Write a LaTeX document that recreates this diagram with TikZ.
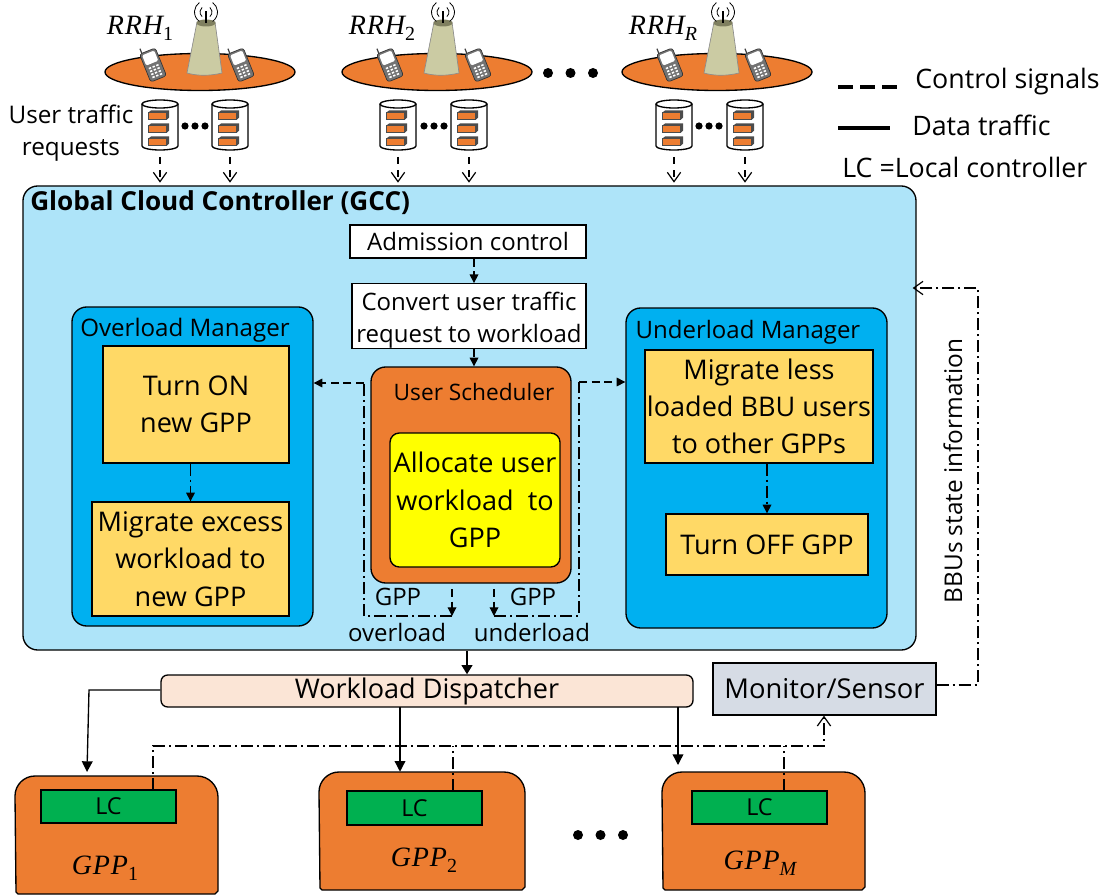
\documentclass[tikz,border=0pt]{standalone}
\usepackage{fontspec}
\setmainfont{Open Sans}
\newfontfamily\mfont{Liberation Serif}
\usetikzlibrary{arrows.meta,calc}
\definecolor{gccblue}{HTML}{AEE4F9}
\definecolor{mgrblue}{HTML}{00B0F0}
\definecolor{orng}{HTML}{ED7D31}
\definecolor{gold}{HTML}{FFD966}
\definecolor{tower}{HTML}{CBCBA3}
\definecolor{towertop}{HTML}{7F7F5F}
\definecolor{peach}{HTML}{FBE5D6}
\definecolor{slate}{HTML}{D6DCE5}
\definecolor{lcgreen}{HTML}{00B050}
\definecolor{yell}{HTML}{FFFF00}
\tikzset{
  px/.style={x=0.75pt,y=-0.75pt},
  box/.style={draw=black,line width=1pt},
  txt/.style={font=\fontsize{#1}{#1}\selectfont,inner sep=0pt,align=center},
  txt/.default=18,
  solidarrow/.style={draw=black,line width=1pt,-{Triangle[length=8pt,width=8pt]}},
  ctl/.style={draw=black,line width=0.9pt,dash pattern=on 9pt off 3pt on 1.5pt off 3pt},
  dsh/.style={draw=black,line width=0.9pt,dash pattern=on 6pt off 3.5pt},
  reqline/.style={draw=black,line width=0.9pt,dash pattern=on 5pt off 5pt},
  filltip/.style={-{Triangle[length=6.5pt,width=6.5pt]}},
  opentip/.style={-{Straight Barb[length=7pt,width=10pt]}},
}
\newcommand{\bx}[7][]{%
  \pgfmathsetmacro{\cxv}{(#3+#5)/2}\pgfmathsetmacro{\cyv}{(#4+#6)/2}%
  \pgfmathsetmacro{\wv}{(#5-#3)*0.75}\pgfmathsetmacro{\hv}{(#6-#4)*0.75}%
  \node[minimum width=\wv pt,minimum height=\hv pt,inner sep=0pt,align=center,#1] (#2) at (\cxv,\cyv) {#7};}
\newcommand{\vr}[2]{{\mfont\itshape\addfontfeatures{LetterSpace=3}#1}\raisebox{-0.22em}{\fontsize{15}{15}\selectfont\mfont #2}}
\newcommand{\rrh}[2]{% centre x, name
  \begin{scope}[shift={(#1,0)}]
  \filldraw[fill=orng,draw=black,line width=1pt] (0,72) ellipse [x radius=95,y radius=18.5];
  \fill[tower,draw=black!45,line width=0.5pt] (-13,73) -- (-3,22) -- (15,22) -- (22,73) .. controls (10,76) and (-3,76) .. (-13,73) -- cycle;
  \fill[towertop] (6,23) ellipse [x radius=9.5,y radius=3.5];
  \draw[line width=1pt] (6,23) -- (6,11);
  \draw[line width=0.6pt] (6,12) ++(130:6) arc[start angle=130,end angle=230,radius=6];
  \draw[line width=0.6pt] (6,12) ++(50:6) arc[start angle=50,end angle=-50,radius=6];
  \draw[line width=0.6pt] (6,12) ++(125:11.5) arc[start angle=125,end angle=235,radius=11.5];
  \draw[line width=0.6pt] (6,12) ++(55:11.5) arc[start angle=55,end angle=-55,radius=11.5];
  \phone{-47}{65}\phone{41}{65}
  \end{scope}}
\newcommand{\phone}[2]{%
  \begin{scope}[shift={(#1,#2)},rotate=22]
  \draw[line width=0.9pt,black!75] (-6,-13) -- (-6,-20);
  \filldraw[fill=black!55,draw=black!80,line width=0.5pt,rounded corners=2pt] (-8.5,-15) rectangle (8.5,15);
  \fill[white,rounded corners=1pt] (-6.5,-13) rectangle (6.5,-2);
  \foreach \i in {0,1,2,3}\foreach \j in {-1,0,1}
    \fill[white] (\j*4-1.2,1+\i*3.2) rectangle (\j*4+1.2,2.6+\i*3.2);
  \end{scope}}
\newcommand{\cyl}[2]{% left x, name
  \bx{#2}{#1}{100}{#1+36}{150}{}
  \begin{scope}[shift={(#1,0)}]
  \filldraw[fill=white,draw=black,line width=1pt] (0,104) -- (0,146) arc[start angle=180,end angle=0,x radius=18,y radius=4] -- (36,104);
  \filldraw[fill=white,draw=black,line width=1pt] (18,104) ellipse [x radius=18,y radius=4];
  \foreach \y in {112,125,138}{
    \fill[black!70] (7,\y) -- (9,\y-1.5) -- (27,\y-1.5) -- (27,\y+5.5) -- (25,\y+7.5) -- (7,\y+7.5) -- cycle;
    \fill[orng] (6,\y) rectangle (24.5,\y+7.5);
    \draw[black!70,line width=0.4pt] (6,\y) rectangle (24.5,\y+7.5);
  }
  \end{scope}}
\newcommand{\threedots}[4]{\foreach \i in {0,1,2}\fill (#1+\i*#3,#2) circle [radius=#4];}
\newcommand{\gpp}[5]{% name x1 y1 x2 y2
  \filldraw[fill=orng,draw=black,line width=1pt] (#2+1,#5-2) -- (#2,#3+20) arc[start angle=180,end angle=270,radius=20] -- (#4-21,#3) arc[start angle=270,end angle=360,radius=21] -- (#4,#5-3) -- (#4-3,#5) -- (#2+3,#5) -- cycle;
  \bx{#1}{#2}{#3}{#4}{#5}{}}
\begin{document}
\begin{tikzpicture}[px]
\useasboundingbox (0,0) rectangle (1114,895);
% RRH sites
\rrh{200}{a}\rrh{437}{b}\rrh{717}{c}
\node[txt=21] (rrh1) at (140,28) {\vr{RRH}{1}};
\node[txt=21] (rrh2) at (382,28) {\vr{RRH}{2}};
\node[txt=21] (rrh3) at (663,28) {\vr{RRH}{\itshape R}};
\threedots{548}{73}{22.5}{5}
\threedots{578}{835}{22.5}{5}
\node[font=\fontsize{18.2}{24}\selectfont,inner sep=0pt,align=center] (utr) at (71,133) {User traffic\\requests};
\cyl{142}{c1}\cyl{212}{c2}\cyl{380}{c3}\cyl{451}{c4}\cyl{656}{c5}\cyl{727}{c6}
\threedots{185}{126}{10}{3.6}
\threedots{424}{126}{10}{3.6}
\threedots{699}{126}{10}{3.6}
% Legend
\coordinate (la) at (838,87);\coordinate (lb) at (897,87);
\coordinate (lc) at (838,128);\coordinate (ld) at (890,128);
\draw[line width=2.5pt,dash pattern=on 11.25pt off 5.25pt] (la) -- (lb);
\draw[line width=2.5pt] (lc) -- (ld);
\node[txt=20.1,anchor=west] (l1) at (915,82) {Control signals};
\node[txt=20.1,anchor=west] (l2) at (912,125) {Data traffic};
\node[txt=20.1,anchor=west] (l3) at (842,167) {LC =Local controller};
% GCC
\bx[box,fill=gccblue,rounded corners=11pt]{gcc}{23}{186}{916}{650}{}
\node[inner sep=0pt,anchor=west,font=\fontsize{19.6}{19.6}\selectfont\bfseries] (gcct) at (30,203) {Global Cloud Controller (GCC)};
\foreach \c in {c1,c2,c3,c4,c5,c6}
  \draw[reqline,opentip,shorten <=5pt,shorten >=2pt] (\c.south) -- (\c.south |- gcc.north);
\bx[box,fill=white,font=\fontsize{18}{18}\selectfont]{adm}{350}{225}{586}{258}{Admission control}
\bx[box,fill=white,font=\fontsize{18}{24}\selectfont]{conv}{352}{285}{586}{347}{\rule{0pt}{20pt}Convert user traffic\\request to workload}
% Overload
\bx[box,fill=mgrblue,rounded corners=11pt]{over}{72}{307}{313}{626}{}
\node[txt=18.1] (overt) at (185,330) {Overload Manager};
\bx[box,fill=gold,font=\fontsize{20.3}{28}\selectfont]{ton}{103}{346}{289}{463}{Turn ON\\new GPP}
\bx[box,fill=gold,font=\fontsize{20.3}{28}\selectfont]{mig}{92}{502}{289}{616}{Migrate excess\\workload to\\new GPP}
% Underload
\bx[box,fill=mgrblue,rounded corners=11pt]{under}{626}{308}{887}{628}{}
\node[txt=18] (undert) at (748,332) {Underload Manager};
\bx[box,fill=gold,font=\fontsize{20.3}{28}\selectfont]{mgl}{645}{350}{873}{463}{Migrate less\\loaded BBU users\\to other GPPs}
\bx[box,fill=gold,font=\fontsize{20.3}{20.3}\selectfont]{toff}{666}{514}{868}{575}{Turn OFF GPP}
% Scheduler
\bx[box,fill=orng,rounded corners=11pt]{sch}{371}{367}{571}{583}{}
\node[txt=17] (scht) at (474,392) {User Scheduler};
\bx[box,fill=yell,rounded corners=7pt,font=\fontsize{20.3}{28}\selectfont]{alloc}{390}{433}{560}{567}{Allocate user\\workload\ \ to\\GPP}
\node[txt=18] (g1) at (398,597) {GPP};
\node[txt=18] (g2) at (533,597) {GPP};
\node[txt=18] (o1) at (397,632) {overload};
\node[txt=18] (u1) at (532,632) {underload};
% Control connectors in GCC
\coordinate (ax) at (474,0);
\coordinate (ol1) at (364,616);\coordinate (ol2) at (364,383);\coordinate (ol3) at (452,616);\coordinate (ol4) at (452,589);
\coordinate (ul1) at (579,616);\coordinate (ul2) at (579,382);\coordinate (ul3) at (494,616);\coordinate (ul4) at (494,589);
\draw[dsh,filltip] (adm.south -| ax) -- (conv.north -| ax);
\draw[dsh,filltip] (conv.south -| ax) -- (sch.north -| ax);
\draw[ctl] (ol3) -- (ol1) -- (ol2);
\draw[dsh,filltip] (ol2) -- (over.east |- ol2);
\draw[dsh,filltip] (ol4) -- (ol3);
\draw[ctl] (ul3) -- (ul1) -- (ul2);
\draw[dsh,filltip] (ul2) -- (under.west |- ul2);
\draw[dsh,filltip] (ul4) -- (ul3);
\draw[ctl,filltip] (ton.south -| mig.north) -- (mig.north);
\draw[ctl,filltip] (mgl.south -| toff.north) -- (toff.north);
% Dispatcher
\bx[box,fill=peach,rounded corners=5pt,font=\fontsize{20.3}{20.3}\selectfont]{wd}{161}{675}{693}{707}{Workload Dispatcher}
\bx[box,fill=slate,font=\fontsize{20.5}{20.5}\selectfont]{mon}{713}{663}{936}{715}{Monitor/Sensor}
\coordinate (gout) at (467,651);
\draw[line width=2pt,-{Triangle[length=7pt,width=8pt]}] (gout) -- (gout |- wd.north);
% GPPs
\gpp{gpp1}{15}{776}{218}{894}
\gpp{gpp2}{319}{772}{525}{890}
\gpp{gpp3}{662}{772}{865}{890}
\bx[box,fill=lcgreen,font=\fontsize{17.5}{17.5}\selectfont]{lc1}{41}{790}{176}{823}{LC}
\bx[box,fill=lcgreen,font=\fontsize{17.5}{17.5}\selectfont]{lc2}{347}{791}{482}{825}{LC}
\bx[box,fill=lcgreen,font=\fontsize{17.5}{17.5}\selectfont]{lc3}{692}{791}{827}{824}{LC}
\node[txt=21] (gl1) at (105,868) {\vr{GPP}{1}};
\node[txt=21] (gl2) at (424,860) {\vr{GPP}{2}};
\node[txt=21] (gl3) at (760,863) {\vr{GPP}{\itshape M}};
% Data connectors
\coordinate (d1) at (89,690);\coordinate (d1e) at (87,772);
\coordinate (d2) at (400,707);\coordinate (d3) at (678,707);
\draw[solidarrow] (wd.west |- d1) -- (d1) -- (d1e);
\draw[solidarrow] (d2) -- (d2 |- gpp2.north);
\draw[solidarrow] (d3) -- (678,765);
% Monitoring
\coordinate (b1) at (153,746);\coordinate (b2) at (453,746);\coordinate (b3) at (784,746);\coordinate (b4) at (824,746);
\draw[ctl,opentip] (153,790) -- (b1) -- (b4) -- (mon.south -| b4);
\draw[ctl] (453,791) -- (b2);
\draw[ctl] (784,791) -- (b3);
\coordinate (m1) at (978,685);\coordinate (m2) at (978,288);
\draw[ctl,opentip,shorten >=-3pt] (mon.east |- m1) -- (m1) -- (m2) -- (gcc.east |- m2);
\node[txt=18.3,rotate=90] (bbu) at (953,471) {BBUs state information};
\end{tikzpicture}
\end{document}
